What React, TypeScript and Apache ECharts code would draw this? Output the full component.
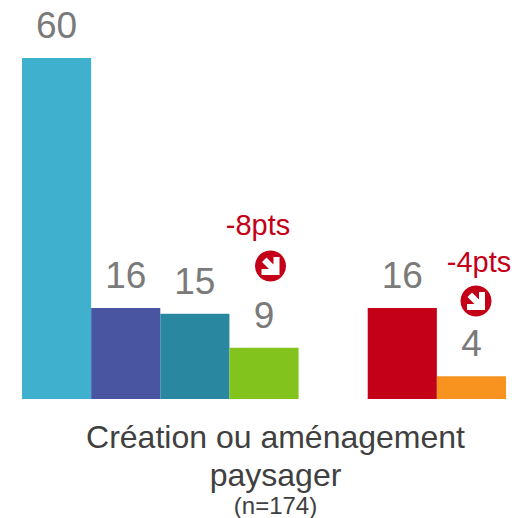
import React, { useEffect, useRef } from "react";
import * as echarts from "echarts";

const categories = ["A", "B", "C", "D", "", "E", "F"];
const values = [60, 16, 15, 9, null, 16, 4];
const colors = ["#3FB1CE", "#4A55A2", "#2A87A0", "#82C31D", "#FFFFFF", "#C40018", "#F7931E"];
const titleLines = ["Création ou aménagement", "paysager"];
const sampleLabel = "(n=174)";
const deltas = [
  { text: "-8pts", tx: 258, ty: 225, cx: 270.5, cy: 266 },
  { text: "-4pts", tx: 479, ty: 262, cx: 476, cy: 301 },
];
const FONT = "Liberation Sans, Arial, sans-serif";
const RED = "#C40018";

function arrowIcon(cx: number, cy: number) {
  return {
    type: "group",
    x: cx,
    y: cy,
    children: [
      { type: "circle", shape: { cx: 0, cy: 0, r: 15.5 }, style: { fill: RED } },
      {
        type: "polygon",
        shape: { points: [[-8.5, -4], [-4, -8.5], [3, -1.5], [3, -9], [9, -9], [9, 9], [-9, 9], [-9, 3], [-1.5, 3]] },
        style: { fill: "#FFFFFF" },
      },
    ],
  };
}

export default function App() {
  const ref = useRef<HTMLDivElement>(null);
  useEffect(() => {
    const chart = echarts.init(ref.current!, undefined, { renderer: "svg" });
    chart.setOption({
      animation: false,
      backgroundColor: "#FFFFFF",
      grid: { left: 22, right: 9, top: 58, bottom: 119 },
      xAxis: {
        type: "category",
        data: categories,
        axisLine: { show: false },
        axisTick: { show: false },
        axisLabel: { show: false },
      },
      yAxis: { type: "value", min: 0, max: 60, show: false },
      series: [
        {
          type: "bar",
          barWidth: "100%",
          data: values.map((v, i) => ({ value: v, itemStyle: { color: colors[i] } })),
          label: {
            show: true,
            position: "top",
            distance: 14,
            color: "#7A7A7A",
            fontFamily: FONT,
            fontSize: 37,
          },
        },
      ],
      graphic: [
        {
          type: "text",
          x: 275.5,
          y: 437,
          style: { text: titleLines[0], fill: "#404040", font: `32px ${FONT}`, align: "center", verticalAlign: "middle" },
        },
        {
          type: "text",
          x: 275.5,
          y: 475,
          style: { text: titleLines[1], fill: "#404040", font: `32px ${FONT}`, align: "center", verticalAlign: "middle" },
        },
        {
          type: "text",
          x: 275.5,
          y: 505.5,
          style: { text: sampleLabel, fill: "#404040", font: `24px ${FONT}`, align: "center", verticalAlign: "middle" },
        },
        ...deltas.flatMap((d) => [
          {
            type: "text",
            x: d.tx,
            y: d.ty,
            style: { text: d.text, fill: RED, font: `29px ${FONT}`, align: "center", verticalAlign: "middle" },
          },
          arrowIcon(d.cx, d.cy),
        ]),
      ],
    });
    return () => chart.dispose();
  }, []);
  return <div ref={ref} style={{ position: "fixed", left: 0, top: 0, width: 515, height: 518 }} />;
}
